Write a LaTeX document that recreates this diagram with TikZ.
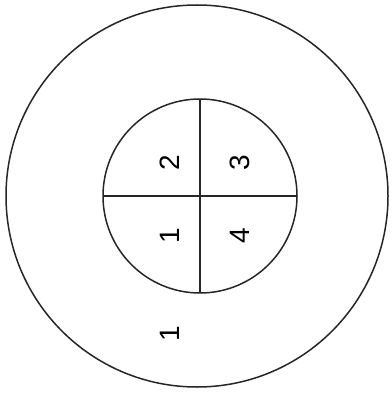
\documentclass[tikz,border=0pt]{standalone}
\usepackage{fontspec}
\setmainfont{Liberation Sans}
\begin{document}
\begin{tikzpicture}[x=1pt,y=-1pt,
  ln/.style={line width=1.5pt,black!85},
  lbl/.style={inner sep=0pt,rotate=90,font=\fontsize{28}{32}\selectfont}]
\useasboundingbox (0,0) rectangle (391,398);
\coordinate (oc) at (197,196);
\coordinate (ic) at (200,196);
\draw[ln] (oc) circle[radius=191];
\draw[ln] (ic) circle[radius=97];
\coordinate (t) at (200,99);
\coordinate (b) at (200,293);
\coordinate (l) at (103,196);
\coordinate (r) at (297,196);
\draw[ln] (t) -- (b);
\draw[ln] (l) -- (r);
\node[lbl] (n2) at (170,163) {2};
\node[lbl] (n3) at (240,163) {3};
\node[lbl] (n1) at (170,236) {1};
\node[lbl] (n4) at (240,236) {4};
\node[lbl] (o1) at (170,334) {1};
\end{tikzpicture}
\end{document}
